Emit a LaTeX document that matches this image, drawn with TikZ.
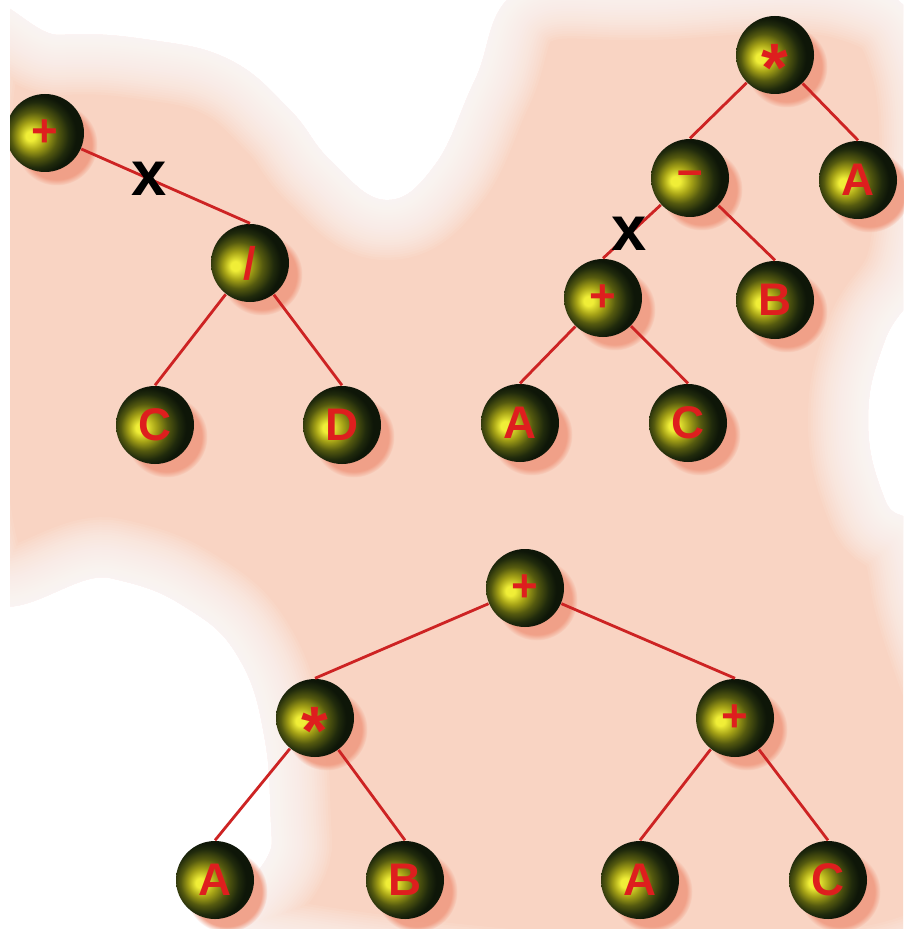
\documentclass[tikz,border=0pt]{standalone}
\usepackage{fontspec}
\setmainfont{Liberation Sans}
\usetikzlibrary{shadows, positioning}

\definecolor{peach}{RGB}{249,212,195}
\definecolor{shadowpink}{RGB}{240,155,130}
\definecolor{edgered}{RGB}{205,35,35}
\definecolor{labelred}{RGB}{222,30,30}
\definecolor{ballhi}{RGB}{240,238,55}
\definecolor{ballmid}{RGB}{165,162,22}
\definecolor{ballolive}{RGB}{85,90,15}
\definecolor{balldark}{RGB}{32,42,12}
\definecolor{ballblack}{RGB}{14,22,8}

% only the inner 25bp radius is visible on the node
\pgfdeclareradialshading{gpball}{\pgfpoint{-10bp}{-2bp}}{%
  color(0bp)=(ballhi); color(3bp)=(ballhi); color(9bp)=(ballmid);
  color(15bp)=(ballolive); color(21bp)=(balldark); color(25bp)=(ballblack);
  color(50bp)=(ballblack)}

\newcommand{\gpast}{\raisebox{-10.5pt}[0pt][0pt]{\scalebox{1.5}{*}}}
\def\blob{plot[smooth cycle, tension=0.7] coordinates {
  (-40,50) (60,35) (150,40) (230,60) (290,110) (330,160) (385,200)
  (435,165) (475,80) (520,-10) (650,-20) (850,-20) (930,60) (930,250)
  (885,340) (868,420) (885,500) (930,580) (950,960) (280,960)
  (272,840) (265,740) (240,660) (190,610) (110,578) (-40,558)}}

\begin{document}
\begin{tikzpicture}[x=0.1mm, y=-0.1mm,
    ball/.style={circle, minimum size=7.8mm, inner sep=0pt,
        shade, shading=gpball,
        circular drop shadow={shadow xshift=1.1mm, shadow yshift=-1.1mm,
            shadow scale=1.05, fill=shadowpink, opacity=0.9},
        text=labelred, font=\fontsize{13}{13}\selectfont\bfseries},
    edge/.style={draw=edgered, line width=0.8pt},
    cutmark/.style={font=\fontsize{18}{18}\selectfont\bfseries,
        text=black, inner sep=0pt}]

    \useasboundingbox (0,0) rectangle (903,929);
    \fill[white] (0,0) rectangle (903,929);
    \begin{scope}
        \clip (0,0) rectangle (903,929);
        \fill[peach] \blob;
        % soft edge of the background
        \foreach \w in {1,2,...,24}
            \draw[white, opacity=0.08, line width=\w*0.5mm] \blob;
    \end{scope}

    % first parent: subtree below the cut
    \node[ball] (lplus) at (45,133) {+};
    \node[ball] (ldiv)  at (250,263) {/};
    \node[ball] (lc)    at (155,425) {C};
    \node[ball] (ld)    at (342,425) {D};

    % second parent
    \node[ball] (rmul)   at (775,55)  {\gpast};
    \node[ball] (rminus) at (690,178) {--};
    \node[ball] (ra)     at (858,180) {A};
    \node[ball] (rplus)  at (603,298) {+};
    \node[ball] (rb)     at (775,300) {B};
    \node[ball] (rpa)    at (520,423) {A};
    \node[ball] (rpc)    at (688,423) {C};

    % offspring
    \node[ball] (oplus) at (525,588) {+};
    \node[ball] (omul)  at (315,718) {\gpast};
    \node[ball] (oadd)  at (735,718) {+};
    \node[ball] (oma)   at (215,880) {A};
    \node[ball] (omb)   at (405,880) {B};
    \node[ball] (opa)   at (640,880) {A};
    \node[ball] (opc)   at (828,880) {C};

    \foreach \p/\c in {ldiv/lc, ldiv/ld, rmul/rminus, rmul/ra, rminus/rb,
        rplus/rpa, rplus/rpc, oplus/omul, oplus/oadd, omul/oma, omul/omb,
        oadd/opa, oadd/opc}
        \draw[edge] (\p) -- (\c.north);

    % crossover points
    \draw[edge] (lplus) -- node[cutmark, pos=0.4] (lcut) {x} (ldiv.north);
    \draw[edge] (rminus) -- node[cutmark, pos=0.55] (rcut) {x} (rplus.north);

    \fill[white] (0,0) rectangle (10,929);
\end{tikzpicture}
\end{document}
